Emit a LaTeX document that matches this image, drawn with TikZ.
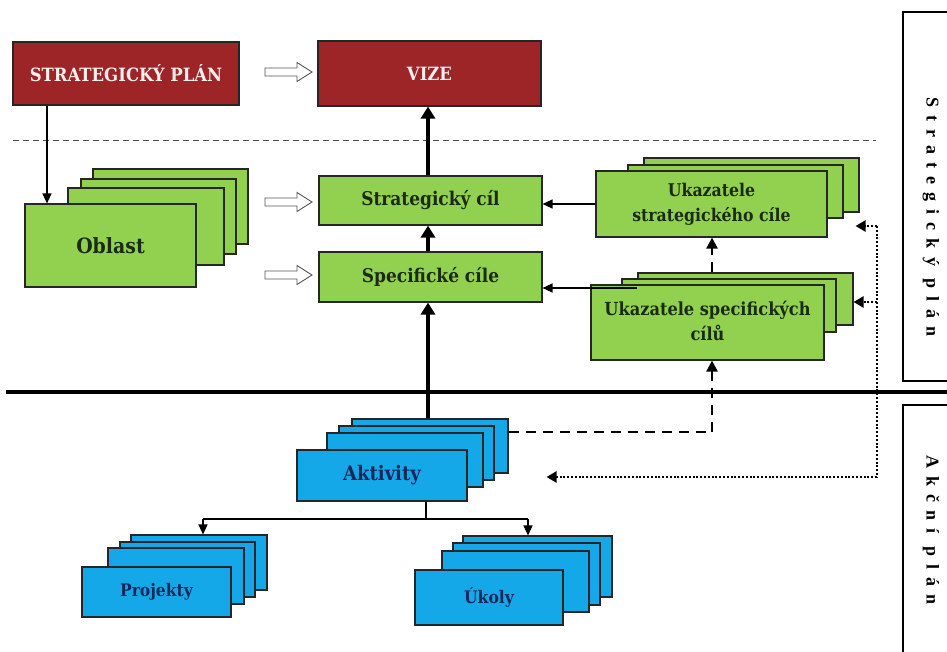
\documentclass[tikz,border=0pt]{standalone}
\usepackage{fontspec}
\setmainfont{DejaVu Serif Condensed}
\newfontfamily\sidefont[LetterSpace=45]{Liberation Serif}
\usetikzlibrary{arrows.meta,fit}
\definecolor{cardred}{HTML}{9D2528}
\definecolor{cardgreen}{HTML}{92D050}
\definecolor{cardblue}{HTML}{14A8E8}
\definecolor{greentext}{HTML}{1C2A14}
\definecolor{bluetext}{HTML}{16285A}
\definecolor{redtext}{HTML}{F6EEEE}
\definecolor{hollowgray}{HTML}{555555}
\newcommand{\twolines}[2]{\begin{tabular}{@{}c@{}}#1\\#2\end{tabular}}
\tikzset{
  card/.style={draw=black!85, line width=1.1pt, inner sep=0pt, rectangle},
  greencard/.style={card, fill=cardgreen, text=greentext, font=\bfseries\fontsize{18.9}{25}\selectfont},
  bluecard/.style={card, fill=cardblue, text=bluetext, font=\bfseries\fontsize{17.3}{20}\selectfont},
  redcard/.style={card, fill=cardred, text=redtext, font=\bfseries\fontsize{18.3}{21}\selectfont},
  thinarr/.style={line width=1.3pt, -{Triangle[width=9pt,length=10pt]}},
  thickarr/.style={line width=3.8pt, -{Triangle[width=14pt,length=12pt]}},
  dasharr/.style={line width=2.4pt, dash pattern=on 10pt off 7pt, -{Triangle[width=11pt,length=11pt]}},
  dashplain/.style={line width=2.4pt, dash pattern=on 10pt off 7pt},
  dotarr/.style={line width=2.4pt, dash pattern=on 2pt off 1.8pt, -{Triangle[width=11pt,length=10pt]}},
  dotplain/.style={line width=2.4pt, dash pattern=on 2pt off 1.8pt},
  sidelabel/.style={rotate=-90, font=\sidefont\bfseries\fontsize{18}{20}\selectfont},
  hollowarr/.pic={\draw[hollowgray, fill=white, line width=0.9pt]
     (0,-4) -- (32,-4) -- (32,-9.5) -- (47,0) -- (32,9.5) -- (32,4) -- (0,4) -- cycle;}
}
\begin{document}
\begin{tikzpicture}[x=1pt,y=-1pt]
\useasboundingbox (0,0) rectangle (947,651);
\fill[white] (0,0) rectangle (947,651);
\clip (0,0) rectangle (947,651);

% separators
\draw[black!70, line width=0.9pt, dash pattern=on 6pt off 4pt] (13,140) -- (876,140);
\draw[line width=3.6pt] (6,392) -- (947,392);

% side boxes
\draw[line width=1.2pt] (903,12) rectangle (960,381);
\draw[line width=1.2pt] (903,405) rectangle (960,665);
\node[sidelabel] (sidestrat) at (931,217) {Strategický plán};
\node[sidelabel] (sideakce) at (931,530) {Akční plán};

% red boxes
\node[redcard, minimum width=226pt, minimum height=63pt] (sp) at (126,73.5) {STRATEGICKÝ PLÁN};
\node[redcard, minimum width=223pt, minimum height=65pt] (vize) at (429.5,73.5) {VIZE};

% green goals
\node[greencard, minimum width=223pt, minimum height=49pt] (strat) at (430.5,200.5) {Strategický cíl};
\node[greencard, minimum width=223pt, minimum height=50pt] (spec) at (430.5,277) {Specifické cíle};

% Oblast stack
\node[greencard, fit={(93,169) (248,244)}] (obl3) {};
\node[greencard, fit={(81,179) (236,254)}] (obl2) {};
\node[greencard, fit={(68,188) (224,265)}] (obl1) {};
\node[greencard, minimum width=171pt, minimum height=83pt, font=\bfseries\fontsize{21}{24}\selectfont] (obl) at (110.5,245.5) {Oblast};

% Ukazatele strategickeho cile
\node[greencard, fit={(644,158) (859,212)}] (ukstr2) {};
\node[greencard, fit={(628,165) (843,218)}] (ukstr1) {};
\node[greencard, minimum width=231pt, minimum height=66pt, font=\bfseries\fontsize{17.5}{25}\selectfont] (ukstr) at (711.5,204) {\twolines{Ukazatele}{strategického cíle}};

% Ukazatele specifickych cilu
\node[greencard, fit={(638,273) (853,325)}] (ukspec2) {};
\node[greencard, fit={(622,279) (836,332)}] (ukspec1) {};
\node[greencard, minimum width=233pt, minimum height=75pt, font=\bfseries\fontsize{18}{25}\selectfont] (ukspec) at (707.5,322.5) {\twolines{Ukazatele specifických}{cílů}};

% Aktivity stack
\node[bluecard, fit={(352,419) (508,473)}] (akt3) {};
\node[bluecard, fit={(339,426) (494,480)}] (akt2) {};
\node[bluecard, fit={(327,433) (483,487)}] (akt1) {};
\node[bluecard, minimum width=170pt, minimum height=51pt, font=\bfseries\fontsize{20}{23}\selectfont] (akt) at (382,475.5) {Aktivity};

% Projekty stack
\node[bluecard, fit={(131,535) (267,590)}] (proj3) {};
\node[bluecard, fit={(120,542) (255,597)}] (proj2) {};
\node[bluecard, fit={(108,548) (244,604)}] (proj1) {};
\node[bluecard, minimum width=149pt, minimum height=50pt] (proj) at (156.5,592) {Projekty};

% Ukoly stack
\node[bluecard, fit={(463,536) (612,597)}] (uk3) {};
\node[bluecard, fit={(453,543) (600,605)}] (uk2) {};
\node[bluecard, fit={(442,551) (589,612)}] (uk1) {};
\node[bluecard, minimum width=148pt, minimum height=55pt] (ukol) at (489,597.5) {Úkoly};

% hollow arrows
\pic at (265,72) {hollowarr};
\pic at (265,202) {hollowarr};
\pic at (265,275) {hollowarr};

% coordinates
\coordinate (xsp) at (47,0);
\coordinate (xmain) at (428,0);
\coordinate (xind) at (712,0);
\coordinate (xdot) at (877,0);
\coordinate (yspec) at (0,288);
\coordinate (yakt) at (0,432);
\coordinate (ydot) at (0,477);
\coordinate (ydot1) at (0,226);
\coordinate (ydot2) at (0,302);
\coordinate (ybranch) at (0,519);
\coordinate (xproj) at (203,0);
\coordinate (xukol) at (528,0);
\coordinate (xakt) at (426,0);

% connectors
\draw[thinarr] (sp.south -| xsp) -- (obl.north -| xsp);
\draw[thickarr] (strat.north -| xmain) -- (vize.south -| xmain);
\draw[thickarr] (spec.north -| xmain) -- (strat.south -| xmain);
\draw[thickarr] (akt3.north -| xmain) -- (spec.south -| xmain);
\draw[thinarr] (ukstr.west) -- (strat.east |- ukstr.west);
\draw[thinarr] (ukspec2.west |- yspec) -- (spec.east |- yspec);
\draw[dasharr] (ukspec2.north -| xind) -- (ukstr.south -| xind);
\draw[dashplain] (akt3.east |- yakt) -- (xind |- yakt);
\draw[dasharr] (xind |- yakt) -- (ukspec.south -| xind);
\draw[dotplain] (xdot |- ydot1) -- (xdot |- ydot);
\draw[dotarr] (xdot |- ydot) -- ([xshift=38pt]akt3.east |- ydot);
\draw[dotarr] (xdot |- ydot1) -- ([xshift=-4pt]ukstr2.east |- ydot1);
\draw[dotarr] (xdot |- ydot2) -- (ukspec2.east |- ydot2);
\draw[line width=1.5pt] (akt.south -| xakt) -- (xakt |- ybranch);
\draw[line width=1.5pt] (xproj |- ybranch) -- (xukol |- ybranch);
\draw[thinarr] (xproj |- ybranch) -- (proj3.north -| xproj);
\draw[thinarr] (xukol |- ybranch) -- (uk3.north -| xukol);
\end{tikzpicture}
\end{document}
